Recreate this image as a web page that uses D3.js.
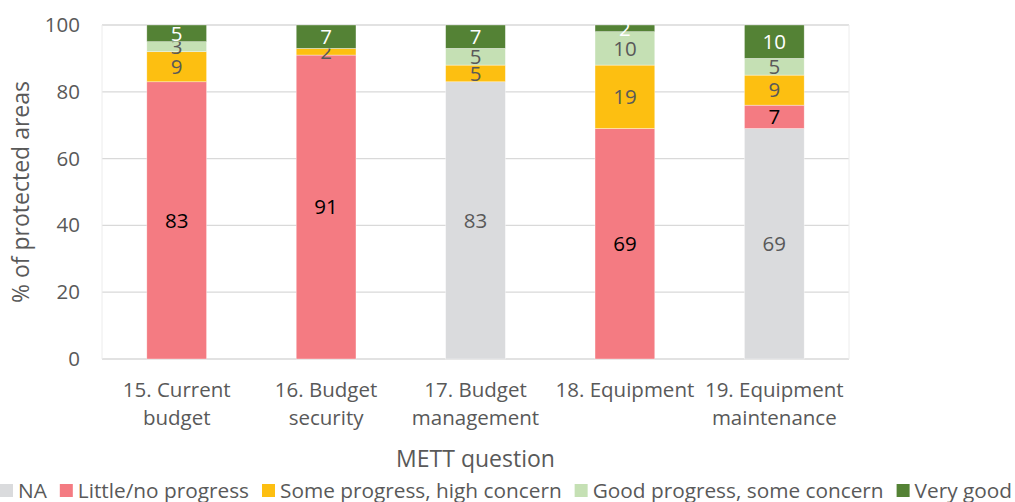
<!DOCTYPE html>
<html>
<head>
<meta charset="utf-8">
<script src="https://cdn.jsdelivr.net/npm/d3@7"></script>
<style>
  body { margin: 0; background: #fff; }
  svg text { font-family: "Open Sans", sans-serif; }
</style>
</head>
<body>
<div id="chart"></div>
<script>
var questions = [["15. Current", "budget"], ["16. Budget", "security"], ["17. Budget", "management"], ["18. Equipment"], ["19. Equipment", "maintenance"]];
var seriesNames = ["NA", "Little/no progress", "Some progress, high concern", "Good progress, some concern", "Very good"];
var naValues = [0, 0, 83, 0, 69];
var littleValues = [83, 91, 0, 69, 7];
var someValues = [9, 2, 5, 19, 9];
var goodValues = [3, 0, 5, 10, 5];
var veryGoodValues = [5, 7, 7, 2, 10];
var yTicks = [0, 20, 40, 60, 80, 100];

var colors = ["#dadbdd", "#f47b82", "#fdbf11", "#c5e0b4", "#548235"];
var labelColors = ["#595959", "#000000", "#595959", "#595959", "#ffffff"];

window.onload = function()
{
	var width = 1015, height = 502;
	var left = 102, right = 849, top = 25, bottom = 359;

	var allValues = [naValues, littleValues, someValues, goodValues, veryGoodValues];
	var rows = questions.map(function(q, i) {
		var r = {key: i};
		seriesNames.forEach(function(s, j) { r[s] = allValues[j][i]; });
		return r;
	});
	var stacked = d3.stack().keys(seriesNames)(rows);

	var svg = d3.select("#chart").append("svg")
		.attr("width", width)
		.attr("height", height);

	var x = d3.scaleBand().domain(d3.range(questions.length)).range([left, right]).paddingInner(0.6).paddingOuter(0.3);
	var y = d3.scaleLinear().domain([0, 100]).range([bottom, top]);

	/* grid */
	svg.append("g").selectAll("line")
		.data(yTicks).enter()
		.append("line")
		.attr("x1", left).attr("x2", right)
		.attr("y1", d => y(d)).attr("y2", d => y(d))
		.style("stroke", "#d9d9d9").style("stroke-width", 1.3);
	svg.append("line").attr("x1", left).attr("x2", left).attr("y1", top).attr("y2", bottom).style("stroke", "#ececec");
	svg.append("line").attr("x1", right).attr("x2", right).attr("y1", top).attr("y2", bottom).style("stroke", "#ececec");

	/* y axis */
	var yAxis = d3.axisLeft(y).tickValues(yTicks).tickSize(0).tickPadding(22);
	var yg = svg.append("g").attr("transform", `translate(${left}, 0)`).call(yAxis);
	yg.select(".domain").remove();
	yg.selectAll("text").style("font-size", "20.5px").style("fill", "#595959");

	svg.append("text")
		.attr("transform", `translate(29, ${(top + bottom) / 2}) rotate(-90)`)
		.attr("text-anchor", "middle")
		.style("font-size", "23px").style("fill", "#595959")
		.text("% of protected areas");

	/* bars */
	var layers = svg.selectAll(".layer")
		.data(stacked).enter()
		.append("g")
		.attr("class", "layer")
		.style("fill", (d, i) => colors[i]);

	layers.selectAll("rect")
		.data(d => d).enter()
		.append("rect")
		.attr("x", (d, i) => x(i))
		.attr("width", x.bandwidth())
		.attr("y", d => y(d[1]))
		.attr("height", d => y(d[0]) - y(d[1]))
		.style("stroke", "#ffffff").style("stroke-width", 0.6).style("stroke-opacity", 0.6);

	layers.each(function(layer, li) {
		d3.select(this).selectAll("text")
			.data(layer.filter(d => d[1] - d[0] > 0)).enter()
			.append("text")
			.attr("x", d => x(d.data.key) + x.bandwidth() / 2)
			.attr("y", d => (y(d[0]) + y(d[1])) / 2)
			.attr("dy", "0.35em")
			.attr("text-anchor", "middle")
			.style("font-size", "20.5px")
			.style("fill", labelColors[li])
			.text(d => d[1] - d[0]);
	});

	/* x labels */
	var xl = svg.append("g").selectAll("text")
		.data(questions).enter()
		.append("text")
		.attr("x", (d, i) => x(i) + x.bandwidth() / 2)
		.attr("y", 397)
		.attr("text-anchor", "middle")
		.style("font-size", "20.5px").style("fill", "#595959");
	xl.selectAll("tspan")
		.data(d => d).enter()
		.append("tspan")
		.attr("x", function() { return d3.select(this.parentNode).attr("x"); })
		.attr("dy", (d, i) => i == 0 ? 0 : 28)
		.text(d => d);

	svg.append("text")
		.attr("x", (left + right) / 2)
		.attr("y", 467)
		.attr("text-anchor", "middle")
		.style("font-size", "23px").style("fill", "#595959")
		.text("METT question");

	/* legend */
	var legend = svg.append("g").attr("transform", "translate(0, 491)");
	var lx = 0;
	seriesNames.forEach(function(s, i) {
		legend.append("rect")
			.attr("x", lx).attr("y", -7)
			.attr("width", 13).attr("height", 13)
			.style("fill", colors[i]);
		var t = legend.append("text")
			.attr("x", lx + 18).attr("y", 0)
			.attr("dy", "0.35em")
			.style("font-size", "20.8px").style("fill", "#595959")
			.text(s);
		lx += 18 + t.node().getComputedTextLength() + 13;
	});
}
</script>
</body>
</html>
